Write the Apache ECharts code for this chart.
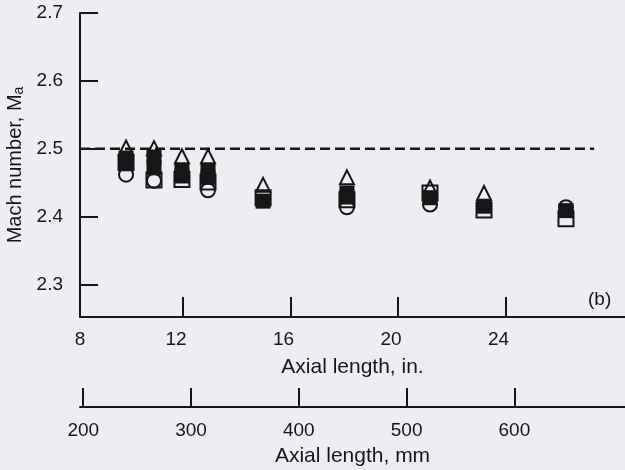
<!DOCTYPE html>
<html>
<head>
<meta charset="utf-8">
<title>Mach number vs axial length</title>
<script src="https://cdn.jsdelivr.net/npm/echarts@6/dist/echarts.min.js"></script>
<style>
    html, body { margin: 0; padding: 0; background: #eceef2; }
    #canvas { width: 625px; height: 470px; }
</style>
</head>
<body>
<div id="canvas"></div>
<script type="text/javascript">
    // 读图数据
    var axialIn      = [9.88, 10.92, 11.96, 12.93, 14.98, 18.1, 21.19, 23.2, 26.25];
    var triangleM    = [2.502, 2.501, 2.489, 2.489, 2.447, 2.458, 2.443, 2.435, null];
    var openSquareM  = [2.480, 2.454, 2.455, 2.451, 2.428, 2.425, 2.435, 2.410, 2.397];
    var filledSqM    = [2.4865, 2.488, 2.468, 2.467, 2.423, 2.435, 2.428, 2.4155, 2.409];
    var filledSqM2   = [2.478, 2.472, 2.460, 2.458, null, 2.429, null, null, null];
    var circleM      = [2.462, 2.453, null, 2.439, null, 2.414, 2.418, null, 2.414];
    var designLineX  = [8.167, 27.3];
    var designLineM  = [2.5, 2.5];

    // 刻度
    var inchLabels = [8, 12, 16, 20, 24];
    var mmLabels   = [200, 300, 400, 500, 600];
    var machLabels = [2.3, 2.4, 2.5, 2.6, 2.7];

    var inchMin = 8.167, inchMax = 28.446;
    var mmMin = 197, mmMax = 702.6;
    var ink = '#161616';
    var font = "'Liberation Sans', Arial, sans-serif";

    function pairs(ys) {
        var out = [];
        for (var i = 0; i < axialIn.length; i++) {
            if (ys[i] !== null) out.push([axialIn[i], ys[i]]);
        }
        return out;
    }
    var inchPos = inchLabels.map(function (v) { return v === 8 ? inchMin : v; });

    var Dom = document.querySelector('#canvas');
    var myChart = echarts.init(Dom);
    var openStyle = { color: 'rgba(0,0,0,0)', borderColor: ink, borderWidth: 2, opacity: 1 };
    var fillStyle = { color: ink, borderWidth: 0, opacity: 1 };
    var option = {
        backgroundColor: '#eceef2',
        animation: false,
        grid: { left: 80, right: 0, top: 13, bottom: 153, containLabel: false, outerBoundsMode: 'none' },
        xAxis: [
            {
                type: 'value', position: 'bottom', min: inchMin, max: inchMax,
                name: 'Axial length, in.', nameLocation: 'middle', nameGap: 40,
                nameTextStyle: { color: ink, fontSize: 21, fontFamily: font },
                splitLine: { show: false },
                axisLine: { show: true, onZero: false, lineStyle: { color: ink, width: 2 } },
                axisTick: { show: true, inside: true, length: 20, customValues: [12, 16, 20, 24],
                    lineStyle: { color: ink, width: 2 } },
                axisLabel: {
                    customValues: inchPos, margin: 13, color: ink, fontSize: 19, fontFamily: font,
                    formatter: function (v) {
                        var i = inchPos.indexOf(v);
                        return i === 0 ? '{a|' + inchLabels[i] + '}' : '{b|' + inchLabels[i] + '}';
                    },
                    rich: {
                        a: { fontSize: 19, fontFamily: font, color: ink },
                        b: { fontSize: 19, fontFamily: font, color: ink, padding: [0, 14, 0, 0] }
                    }
                }
            },
            {
                type: 'value', position: 'bottom', offset: 90, min: mmMin, max: mmMax,
                name: 'Axial length, mm', nameLocation: 'middle', nameGap: 39,
                nameTextStyle: { color: ink, fontSize: 21, fontFamily: font },
                splitLine: { show: false },
                axisLine: { show: true, onZero: false, lineStyle: { color: ink, width: 2 } },
                axisTick: { show: true, inside: true, length: 19, customValues: mmLabels,
                    lineStyle: { color: ink, width: 2 } },
                axisLabel: { customValues: mmLabels, margin: 14, color: ink, fontSize: 19, fontFamily: font }
            }
        ],
        yAxis: {
            type: 'value', min: 2.2524, max: 2.7,
            name: '{t|Mach number, M}{s|a}', nameLocation: 'middle', nameGap: 46,
            nameTextStyle: {
                color: ink, fontSize: 20, fontFamily: font,
                rich: {
                    t: { fontSize: 20, fontFamily: font, color: ink, lineHeight: 22, verticalAlign: 'bottom' },
                    s: { fontSize: 14, fontFamily: font, color: ink, lineHeight: 10, verticalAlign: 'bottom' }
                }
            },
            splitLine: { show: false },
            axisLine: { show: true, onZero: false, lineStyle: { color: ink, width: 2 } },
            axisTick: { show: true, inside: true, length: 18, customValues: machLabels,
                lineStyle: { color: ink, width: 2 } },
            axisLabel: {
                customValues: machLabels, margin: 17, color: ink, fontSize: 19, fontFamily: font,
                formatter: function (v) { return v.toFixed(1); }
            }
        },
        graphic: [
            { type: 'text', left: 588, top: 290,
              style: { text: '(b)', fill: ink, fontSize: 19, fontFamily: font } }
        ],
        series: [
            {
                type: 'line', z: 1, symbol: 'none', silent: true,
                data: designLineX.map(function (x, i) { return [x, designLineM[i]]; }),
                lineStyle: { color: ink, width: 2.5, type: [10, 5], opacity: 1 }
            },
            { type: 'scatter', z: 2, symbol: 'circle', symbolSize: 14, data: pairs(circleM), itemStyle: openStyle },
            { type: 'scatter', z: 3, symbol: 'rect', symbolSize: 15, data: pairs(openSquareM), itemStyle: openStyle },
            { type: 'scatter', z: 4, symbol: 'triangle', symbolSize: 14, data: pairs(triangleM), itemStyle: openStyle },
            { type: 'scatter', z: 5, symbol: 'rect', symbolSize: 15, data: pairs(filledSqM), itemStyle: fillStyle },
            { type: 'scatter', z: 5, symbol: 'rect', symbolSize: 15, data: pairs(filledSqM2), itemStyle: fillStyle }
        ]
    };
    myChart.setOption(option);
</script>
</body>
</html>
